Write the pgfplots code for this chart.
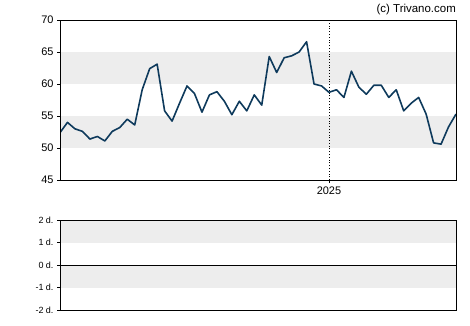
\documentclass[border=0pt]{standalone}
\usepackage{fontspec}
\setmainfont{Liberation Sans}
\usepackage{pgfplots}
\pgfplotsset{compat=1.18}
\definecolor{navy}{RGB}{14,58,92}
\definecolor{band}{RGB}{237,237,237}
\pgfplotstableread{
x y
0 52.4
1 54.0
2 53.0
3 52.6
4 51.4
5 51.8
6 51.1
7 52.6
8 53.2
9 54.5
10 53.6
11 59.1
12 62.4
13 63.1
14 55.8
15 54.2
16 57.0
17 59.7
18 58.5
19 55.6
20 58.3
21 58.8
22 57.3
23 55.2
24 57.3
25 55.8
26 58.3
27 56.7
28 64.3
29 61.8
30 64.1
31 64.4
32 65.0
33 66.6
34 60.0
35 59.7
36 58.7
37 59.1
38 57.9
39 62.0
40 59.5
41 58.4
42 59.8
43 59.8
44 57.9
45 59.1
46 55.8
47 57.0
48 57.9
49 55.3
50 50.8
51 50.6
52 53.3
53 55.3
}\pricedata
\begin{document}
\begin{tikzpicture}[x=1bp,y=1bp]
\useasboundingbox (0,0) rectangle (470,325);
\begin{axis}[at={(60bp,145bp)}, anchor=south west, scale only axis,
  width=396bp, height=160bp, xmin=0, xmax=53, ymin=45, ymax=70,
  ytick={45,50,...,70}, xtick={36}, xticklabels={2025},
  tick align=outside, ytick pos=left, xtick pos=bottom,
  major tick length=3bp, tick style={black, line width=0.8bp},
  axis line style={black, line width=0.8bp},
  ticklabel style={font=\fontsize{11}{13}\selectfont},
  /pgf/number format/assume math mode=true, axis on top]
\fill[band] (axis cs:0,50) rectangle (axis cs:53,55);
\fill[band] (axis cs:0,60) rectangle (axis cs:53,65);
\draw[black, dotted, line width=0.8bp] (axis cs:36,45) -- (axis cs:36,70);
\addplot[navy, line width=1.6bp, line join=round] table[x=x,y=y] {\pricedata};
\end{axis}
\node[anchor=base east, inner sep=0pt, font=\fontsize{11.5}{13}\selectfont] at (456,312.5) {(c) Trivano.com};
\begin{axis}[at={(60bp,15bp)}, anchor=south west, scale only axis,
  width=396bp, height=90bp, xmin=0, xmax=53, ymin=-2, ymax=2,
  xtick=\empty, ytick={-2,-1,0,1,2},
  yticklabels={-2 d.,-1 d.,0 d.,1 d.,2 d.},
  tick align=outside, ytick pos=left,
  major tick length=3bp, tick style={black, line width=0.8bp},
  axis line style={black, line width=0.8bp},
  ticklabel style={font=\fontsize{9}{10}\selectfont}, axis on top]
\fill[band] (axis cs:0,1) rectangle (axis cs:53,2);
\fill[band] (axis cs:0,-1) rectangle (axis cs:53,0);
\draw[black, line width=0.8bp] (axis cs:0,0) -- (axis cs:53,0);
\end{axis}
\end{tikzpicture}
\end{document}
